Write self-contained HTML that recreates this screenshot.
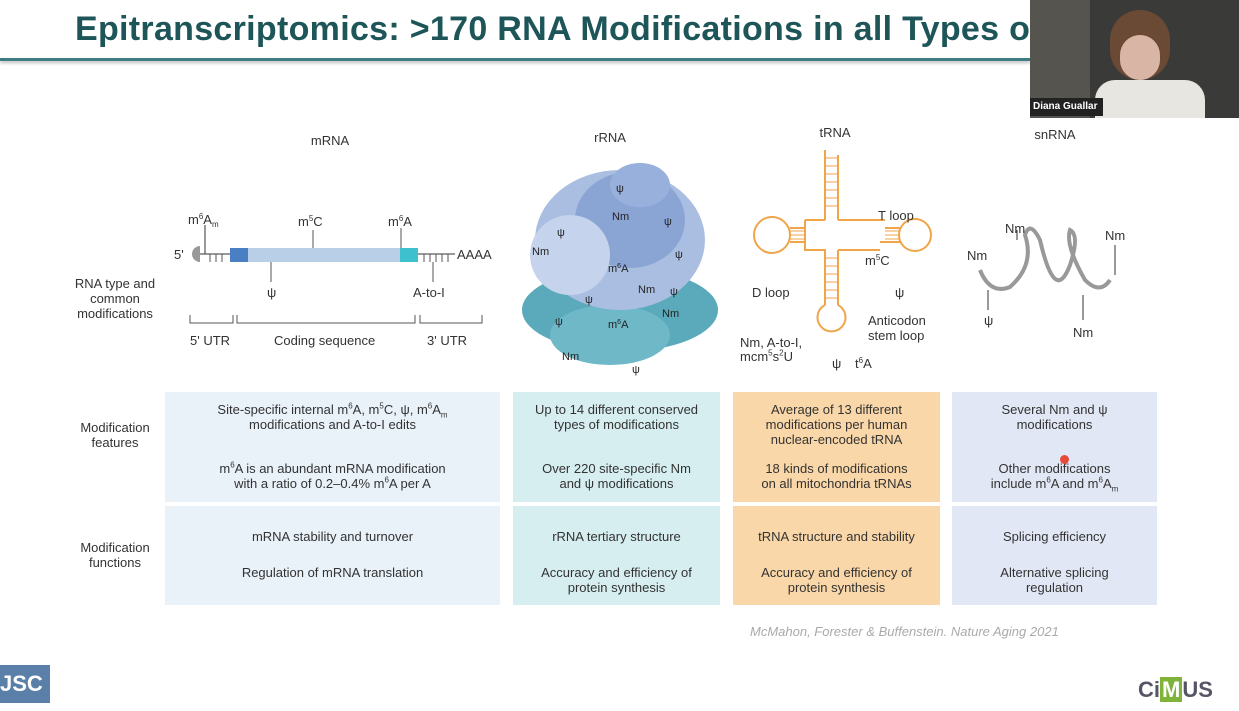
<!DOCTYPE html>
<html><head><meta charset="utf-8"><style>
body{margin:0;width:1239px;height:711px;background:#fff;position:relative;overflow:hidden;font-family:"Liberation Sans",sans-serif;color:#333}
.a{position:absolute}
.t{position:absolute;font-size:13px;text-align:center;line-height:15px;color:#333}
.box{position:absolute}
sup,sub{font-size:8px;line-height:0}
</style></head><body>
<div class="a" style="left:75px;top:10px;font-size:34px;font-weight:bold;color:#1d5558;letter-spacing:0.3px;white-space:nowrap">Epitranscriptomics: &gt;170 RNA Modifications in all Types of</div>
<div class="a" style="left:0;top:58px;width:1030px;height:3px;background:#3f7b82;box-shadow:0 2px 3px #bbb"></div>
<div class="a" style="left:1030px;top:0;width:209px;height:118px;background:#55544f">
 <div class="a" style="left:60px;top:0;width:149px;height:118px;background:#3a3a38"></div>
 <div class="a" style="left:80px;top:10px;width:60px;height:70px;border-radius:30px;background:#6b4a35"></div>
 <div class="a" style="left:90px;top:35px;width:40px;height:45px;border-radius:20px;background:#d9b5a5"></div>
 <div class="a" style="left:65px;top:80px;width:110px;height:38px;border-radius:20px 20px 0 0;background:#e8e6e0"></div>
 <div class="a" style="left:0;top:98px;width:70px;height:18px;background:#222;color:#fff;font-size:10px;font-weight:bold;line-height:18px;padding-left:3px">Diana Guallar</div>
</div>

<div class="t" style="left:290px;top:133px;width:80px">mRNA</div>
<div class="t" style="left:580px;top:130px;width:60px">rRNA</div>
<div class="t" style="left:805px;top:125px;width:60px">tRNA</div>
<div class="t" style="left:1020px;top:127px;width:70px">snRNA</div>

<div class="t" style="left:60px;top:276px;width:110px;text-align:center">RNA type and<br>common<br>modifications</div>
<div class="t" style="left:60px;top:420px;width:110px">Modification<br>features</div>
<div class="t" style="left:60px;top:540px;width:110px">Modification<br>functions</div>

<!-- mRNA diagram -->
<svg class="a" style="left:160px;top:200px" width="350" height="160">
<path d="M40 46 a8 8 0 0 0 0 16 z" fill="#999"/>
<line x1="40" y1="54" x2="70" y2="54" stroke="#333"/>
<line x1="45" y1="54" x2="45" y2="25" stroke="#333"/>
<rect x="70" y="48" width="18" height="14" fill="#4a7fc4"/>
<rect x="88" y="48" width="152" height="14" fill="#b9cfe8"/>
<rect x="240" y="48" width="18" height="14" fill="#3fc0cf"/>
<line x1="258" y1="54" x2="295" y2="54" stroke="#333"/>
<g stroke="#555" stroke-width="1">
<line x1="50" y1="54" x2="50" y2="62"/><line x1="56" y1="54" x2="56" y2="62"/><line x1="62" y1="54" x2="62" y2="62"/>
<line x1="264" y1="54" x2="264" y2="62"/><line x1="270" y1="54" x2="270" y2="62"/><line x1="276" y1="54" x2="276" y2="62"/><line x1="282" y1="54" x2="282" y2="62"/><line x1="288" y1="54" x2="288" y2="62"/>
<line x1="153" y1="48" x2="153" y2="30"/><line x1="241" y1="48" x2="241" y2="28"/>
<line x1="111" y1="62" x2="111" y2="82"/><line x1="273" y1="62" x2="273" y2="82"/>
<path d="M30 115 v8 h43 v-8 M77 115 v8 h178 v-8 M260 115 v8 h62 v-8" fill="none"/>
</g>
<text x="14" y="59" font-size="13" fill="#333">5'</text>
<text x="297" y="59" font-size="13" fill="#333">AAAA</text>
<text x="28" y="24" font-size="13" fill="#333">m<tspan font-size="8" dy="-5">6</tspan><tspan dy="5">A</tspan><tspan font-size="8" dy="3">m</tspan></text>
<text x="138" y="26" font-size="13" fill="#333">m<tspan font-size="8" dy="-5">5</tspan><tspan dy="5">C</tspan></text>
<text x="228" y="26" font-size="13" fill="#333">m<tspan font-size="8" dy="-5">6</tspan><tspan dy="5">A</tspan></text>
<text x="107" y="97" font-size="13" fill="#333">ψ</text>
<text x="253" y="97" font-size="13" fill="#333">A-to-I</text>
<text x="30" y="145" font-size="13" fill="#333">5' UTR</text>
<text x="114" y="145" font-size="13" fill="#333">Coding sequence</text>
<text x="267" y="145" font-size="13" fill="#333">3' UTR</text>
</svg>

<!-- rRNA blob -->
<svg class="a" style="left:520px;top:160px" width="205" height="220">
<ellipse cx="100" cy="150" rx="98" ry="42" fill="#5aaabb"/>
<ellipse cx="90" cy="175" rx="60" ry="30" fill="#6fb8c8"/>
<ellipse cx="100" cy="80" rx="85" ry="70" fill="#a9bee0"/>
<ellipse cx="110" cy="60" rx="55" ry="48" fill="#8aa4d4"/>
<ellipse cx="50" cy="95" rx="40" ry="40" fill="#c5d3ec"/>
<ellipse cx="120" cy="25" rx="30" ry="22" fill="#98b0dc"/>
<g font-size="11" fill="#222" font-family="Liberation Sans">
<text x="96" y="32">ψ</text><text x="92" y="60">Nm</text><text x="12" y="95">Nm</text><text x="37" y="76">ψ</text>
<text x="144" y="65">ψ</text><text x="88" y="112">m<tspan font-size="7" dy="-4">6</tspan><tspan dy="4">A</tspan></text>
<text x="118" y="133">Nm</text><text x="155" y="98">ψ</text><text x="65" y="143">ψ</text><text x="35" y="165">ψ</text>
<text x="88" y="168">m<tspan font-size="7" dy="-4">6</tspan><tspan dy="4">A</tspan></text><text x="142" y="157">Nm</text>
<text x="42" y="200">Nm</text><text x="112" y="213">ψ</text><text x="150" y="135">ψ</text>
</g></svg>

<!-- tRNA -->
<svg class="a" style="left:750px;top:150px" width="190" height="230">
<g stroke="#f0a54a" stroke-width="2" fill="none">
<line x1="75" y1="0" x2="75" y2="70"/><line x1="88" y1="5" x2="88" y2="70"/>
<path d="M75 70 H55 M88 70 H135"/><path d="M55 70 V 100 H75 V130 M88 100 H130 M88 100 V130"/>
<line x1="55" y1="78" x2="40" y2="78"/><line x1="55" y1="92" x2="40" y2="92"/>
<circle cx="22" cy="85" r="18"/>
<line x1="135" y1="78" x2="150" y2="78"/><line x1="130" y1="92" x2="150" y2="92"/>
<circle cx="165" cy="85" r="16"/>
<path d="M75 130 V155 M88 130 V155"/>
<path d="M75 155 a14 14 0 1 0 13 0"/>
</g>
<g stroke="#f0a54a" stroke-width="1">
<path d="M75 8h13M75 16h13M75 24h13M75 32h13M75 40h13M75 48h13M75 56h13M40 81h15M40 85h15M40 89h15M135 81h15M135 85h15M135 89h15M75 108h13M75 116h13M75 124h13M75 132h13M75 140h13M75 148h13"/>
</g>
<g font-size="13" fill="#333" font-family="Liberation Sans">
<text x="128" y="70">T loop</text><text x="2" y="147">D loop</text>
<text x="115" y="115">m<tspan font-size="8" dy="-5">5</tspan><tspan dy="5">C</tspan></text>
<text x="145" y="147">ψ</text>
<text x="118" y="175">Anticodon</text><text x="118" y="190">stem loop</text>
<text x="82" y="218">ψ</text><text x="105" y="218">t<tspan font-size="8" dy="-5">6</tspan><tspan dy="5">A</tspan></text>
</g></svg>
<div class="t" style="left:748px;top:180px;width:80px;display:none"></div>
<div class="t" style="left:740px;top:336px;width:80px;text-align:left;line-height:14px">Nm, A-to-I,<br>mcm<sup>5</sup>s<sup>2</sup>U</div>

<!-- snRNA -->
<svg class="a" style="left:960px;top:215px" width="190" height="130">
<path d="M20 55 Q30 80 50 72 Q75 50 65 20 Q70 5 80 25 Q95 90 110 50 Q120 20 110 15 Q105 30 125 65 Q140 80 150 65" stroke="#999" stroke-width="4" fill="none"/>
<g stroke="#333"><line x1="28" y1="75" x2="28" y2="95"/><line x1="57" y1="25" x2="57" y2="15"/><line x1="123" y1="80" x2="123" y2="105"/><line x1="155" y1="60" x2="155" y2="30"/></g>
<g font-size="13" fill="#333" font-family="Liberation Sans"><text x="7" y="45">Nm</text><text x="45" y="18">Nm</text><text x="145" y="25">Nm</text><text x="24" y="110">ψ</text><text x="113" y="122">Nm</text></g>
</svg>

<!-- table -->
<div class="box" style="left:165px;top:392px;width:335px;height:110px;background:#e9f1f9"></div>
<div class="box" style="left:165px;top:506px;width:335px;height:99px;background:#e9f1f9"></div>
<div class="box" style="left:513px;top:392px;width:207px;height:110px;background:#d6eef0"></div>
<div class="box" style="left:513px;top:506px;width:207px;height:99px;background:#d6eef0"></div>
<div class="box" style="left:733px;top:392px;width:207px;height:110px;background:#fad7a8"></div>
<div class="box" style="left:733px;top:506px;width:207px;height:99px;background:#fad7a8"></div>
<div class="box" style="left:952px;top:392px;width:205px;height:110px;background:#e1e7f4"></div>
<div class="box" style="left:952px;top:506px;width:205px;height:99px;background:#e1e7f4"></div>

<div class="t" style="left:165px;top:402px;width:335px">Site-specific internal m<sup>6</sup>A, m<sup>5</sup>C, ψ, m<sup>6</sup>A<sub>m</sub><br>modifications and A-to-I edits</div>
<div class="t" style="left:165px;top:461px;width:335px">m<sup>6</sup>A is an abundant mRNA modification<br>with a ratio of 0.2–0.4% m<sup>6</sup>A per A</div>
<div class="t" style="left:165px;top:529px;width:335px">mRNA stability and turnover</div>
<div class="t" style="left:165px;top:565px;width:335px">Regulation of mRNA translation</div>

<div class="t" style="left:513px;top:402px;width:207px">Up to 14 different conserved<br>types of modifications</div>
<div class="t" style="left:513px;top:461px;width:207px">Over 220 site-specific Nm<br>and ψ modifications</div>
<div class="t" style="left:513px;top:529px;width:207px">rRNA tertiary structure</div>
<div class="t" style="left:513px;top:565px;width:207px">Accuracy and efficiency of<br>protein synthesis</div>

<div class="t" style="left:733px;top:402px;width:207px">Average of 13 different<br>modifications per human<br>nuclear-encoded tRNA</div>
<div class="t" style="left:733px;top:461px;width:207px">18 kinds of modifications<br>on all mitochondria tRNAs</div>
<div class="t" style="left:733px;top:529px;width:207px">tRNA structure and stability</div>
<div class="t" style="left:733px;top:565px;width:207px">Accuracy and efficiency of<br>protein synthesis</div>

<div class="t" style="left:952px;top:402px;width:205px">Several Nm and ψ<br>modifications</div>
<div class="t" style="left:952px;top:461px;width:205px">Other modifications<br>include m<sup>6</sup>A and m<sup>6</sup>A<sub>m</sub></div>
<div class="t" style="left:952px;top:529px;width:205px">Splicing efficiency</div>
<div class="t" style="left:952px;top:565px;width:205px">Alternative splicing<br>regulation</div>
<div class="a" style="left:1060px;top:455px;width:9px;height:9px;border-radius:5px;background:#e84a3a"></div>

<div class="a" style="left:750px;top:624px;font-size:13px;font-style:italic;color:#aaa">McMahon, Forester &amp; Buffenstein. Nature Aging 2021</div>
<div class="a" style="left:0;top:665px;width:50px;height:38px;background:#5a7fa8;color:#fff;font-size:22px;font-weight:bold;line-height:38px">JSC</div>
<div class="a" style="left:1138px;top:677px;font-size:22px;font-weight:bold;color:#556">Ci<span style="background:#7fb33a;color:#fff;padding:0 2px">M</span>US</div>
</body></html>
